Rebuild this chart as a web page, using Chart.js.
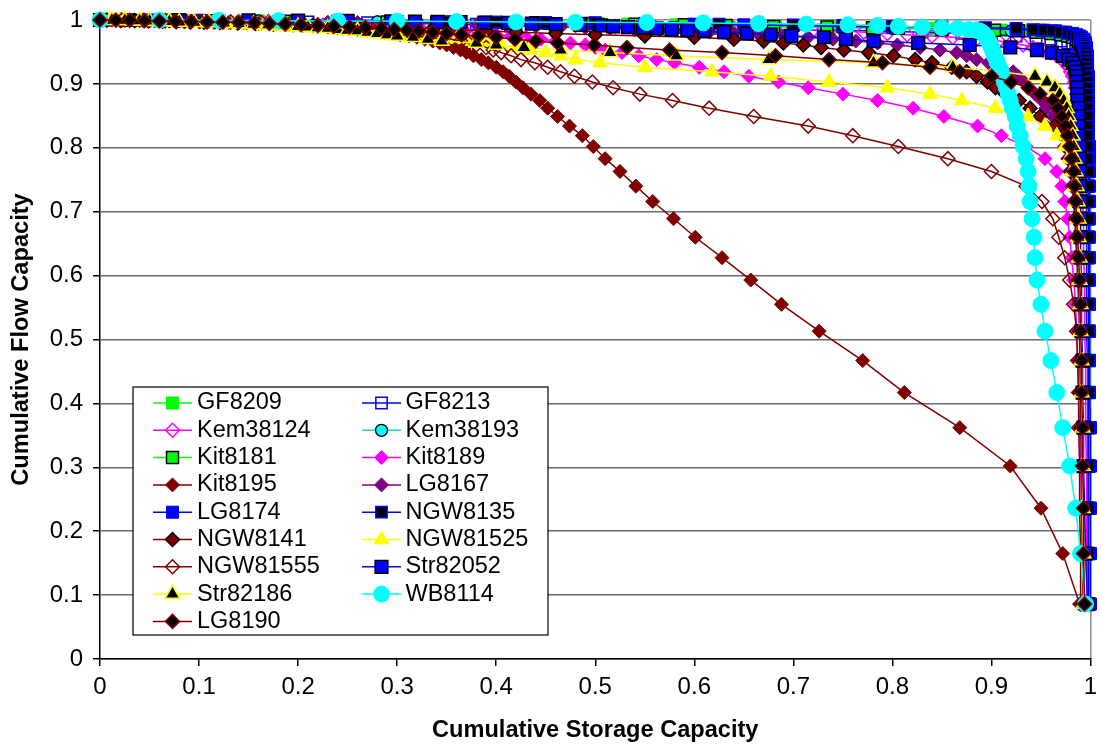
<!DOCTYPE html>
<html>
<head>
<meta charset="utf-8">
<script src="https://cdn.jsdelivr.net/npm/chart.js@4.4.1/dist/chart.umd.min.js"></script>
<style>
html,body{margin:0;padding:0;background:#fff}
#wrap{width:1101px;height:750px;position:relative}
</style>
</head>
<body>
<div id="wrap"><canvas id="c" width="1101" height="750"></canvas></div>
<script>
// Cumulative flow capacity levels shared by every well (top of curve first)
const LEVELS = [1.0, 0.9998, 0.9995, 0.999, 0.9985, 0.998, 0.9975, 0.997, 0.9965, 0.996,
  0.9955, 0.9945, 0.9935, 0.9925, 0.9915, 0.990, 0.989, 0.988, 0.987, 0.985,
  0.984, 0.983, 0.981, 0.979, 0.977, 0.975, 0.973, 0.970, 0.967, 0.964,
  0.961, 0.957, 0.953, 0.949, 0.944, 0.938, 0.933, 0.926, 0.919, 0.912,
  0.903, 0.894, 0.884, 0.874, 0.862, 0.849, 0.834, 0.819, 0.802, 0.783,
  0.763, 0.740, 0.716, 0.689, 0.660, 0.628, 0.593, 0.555, 0.513, 0.467,
  0.417, 0.362, 0.302, 0.236, 0.165, 0.086];

// Cumulative storage capacity of each well at those levels
const GF8209 = [0, 0.04, 0.08, 0.12, 0.16, 0.20, 0.25, 0.30, 0.35, 0.40,
  0.45, 0.503, 0.533, 0.582, 0.633, 0.682, 0.742, 0.79, 0.84, 0.88,
  0.91, 0.935, 0.955, 0.968, 0.977, 0.983, 0.987, 0.99, 0.992, 0.993,
  0.994, 0.994, 0.995, 0.995, 0.995, 0.996, 0.996, 0.996, 0.996, 0.996,
  0.997, 0.997, 0.997, 0.997, 0.997, 0.997, 0.997, 0.998, 0.998, 0.998,
  0.998, 0.998, 0.998, 0.998, 0.998, 0.998, 0.998, 0.998, 0.999, 0.999,
  0.999, 0.999, 0.999, 0.999, 0.999, 0.999];
const GF8213 = [0, 0.03, 0.06, 0.09, 0.12, 0.15, 0.18, 0.21, 0.24, 0.27,
  0.30, 0.34, 0.38, 0.42, 0.46, 0.50, 0.54, 0.58, 0.62, 0.68,
  0.73, 0.78, 0.83, 0.87, 0.90, 0.925, 0.945, 0.96, 0.97, 0.977,
  0.982, 0.985, 0.987, 0.989, 0.99, 0.991, 0.992, 0.992, 0.993, 0.993,
  0.993, 0.994, 0.994, 0.994, 0.994, 0.995, 0.995, 0.995, 0.995, 0.995,
  0.995, 0.996, 0.996, 0.996, 0.996, 0.996, 0.996, 0.996, 0.996, 0.997,
  0.997, 0.997, 0.997, 0.997, 0.997, 0.997];
const Kem38124 = [0, 0.025, 0.05, 0.08, 0.11, 0.14, 0.17, 0.20, 0.24, 0.28,
  0.32, 0.36, 0.40, 0.44, 0.48, 0.52, 0.56, 0.60, 0.64, 0.68,
  0.72, 0.75, 0.771, 0.795, 0.815, 0.84, 0.861, 0.885, 0.907, 0.92,
  0.932, 0.942, 0.952, 0.96, 0.966, 0.971, 0.975, 0.978, 0.98, 0.982,
  0.984, 0.985, 0.986, 0.987, 0.988, 0.989, 0.99, 0.99, 0.991, 0.991,
  0.992, 0.992, 0.992, 0.993, 0.993, 0.993, 0.994, 0.994, 0.994, 0.995,
  0.995, 0.995, 0.996, 0.996, 0.996, 0.997];
const Kem38193 = [0, 0.04, 0.08, 0.12, 0.16, 0.20, 0.24, 0.28, 0.32, 0.36,
  0.40, 0.45, 0.50, 0.55, 0.60, 0.65, 0.70, 0.75, 0.80, 0.85,
  0.89, 0.92, 0.945, 0.962, 0.973, 0.98, 0.985, 0.988, 0.99, 0.991,
  0.992, 0.993, 0.993, 0.994, 0.994, 0.995, 0.995, 0.995, 0.996, 0.996,
  0.996, 0.996, 0.996, 0.997, 0.997, 0.997, 0.997, 0.997, 0.997, 0.997,
  0.997, 0.998, 0.998, 0.998, 0.998, 0.998, 0.998, 0.998, 0.998, 0.998,
  0.998, 0.998, 0.998, 0.998, 0.998, 0.998];
const Kit8181 = [0, 0.03, 0.07, 0.11, 0.15, 0.19, 0.24, 0.29, 0.34, 0.39,
  0.44, 0.49, 0.54, 0.59, 0.632, 0.68, 0.734, 0.78, 0.806, 0.85,
  0.903, 0.927, 0.945, 0.96, 0.97, 0.977, 0.982, 0.986, 0.988, 0.99,
  0.991, 0.992, 0.993, 0.993, 0.994, 0.994, 0.995, 0.995, 0.995, 0.995,
  0.996, 0.996, 0.996, 0.996, 0.996, 0.996, 0.997, 0.997, 0.997, 0.997,
  0.997, 0.997, 0.997, 0.997, 0.997, 0.997, 0.998, 0.998, 0.998, 0.998,
  0.998, 0.998, 0.998, 0.998, 0.998, 0.998];
const Kit8189 = [0, 0.01, 0.02, 0.035, 0.05, 0.065, 0.085, 0.105, 0.125, 0.145,
  0.165, 0.185, 0.205, 0.225, 0.245, 0.265, 0.28, 0.295, 0.31, 0.325,
  0.34, 0.355, 0.37, 0.385, 0.40, 0.415, 0.43, 0.445, 0.46, 0.475,
  0.49, 0.50, 0.51, 0.527, 0.544, 0.562, 0.58, 0.605, 0.63, 0.655,
  0.685, 0.715, 0.75, 0.785, 0.821, 0.852, 0.886, 0.91, 0.935, 0.954,
  0.966, 0.971, 0.974, 0.977, 0.979, 0.981, 0.983, 0.985, 0.986, 0.987,
  0.988, 0.989, 0.99, 0.991, 0.992, 0.993];
const Kit8195 = [0, 0.012, 0.025, 0.04, 0.055, 0.07, 0.085, 0.10, 0.115, 0.13,
  0.145, 0.16, 0.175, 0.19, 0.205, 0.22, 0.23, 0.24, 0.25, 0.26,
  0.27, 0.278, 0.287, 0.295, 0.303, 0.312, 0.32, 0.328, 0.336, 0.343,
  0.35, 0.357, 0.364, 0.37, 0.377, 0.385, 0.392, 0.40, 0.407, 0.413,
  0.42, 0.427, 0.435, 0.444, 0.452, 0.462, 0.474, 0.487, 0.498, 0.51,
  0.525, 0.541, 0.558, 0.579, 0.601, 0.628, 0.657, 0.688, 0.726, 0.770,
  0.812, 0.868, 0.919, 0.950, 0.972, 0.989];
const LG8167 = [0, 0.025, 0.05, 0.08, 0.11, 0.14, 0.17, 0.20, 0.23, 0.26,
  0.29, 0.32, 0.35, 0.38, 0.41, 0.44, 0.465, 0.49, 0.515, 0.54,
  0.565, 0.59, 0.615, 0.64, 0.665, 0.69, 0.715, 0.74, 0.763, 0.785,
  0.805, 0.828, 0.848, 0.865, 0.875, 0.885, 0.897, 0.91, 0.922, 0.927,
  0.933, 0.938, 0.944, 0.951, 0.955, 0.962, 0.967, 0.971, 0.974, 0.977,
  0.979, 0.981, 0.983, 0.984, 0.985, 0.986, 0.987, 0.988, 0.989, 0.989,
  0.99, 0.99, 0.991, 0.991, 0.992, 0.992];
const LG8174 = [0, 0.05, 0.10, 0.15, 0.20, 0.25, 0.30, 0.35, 0.40, 0.45,
  0.50, 0.55, 0.60, 0.65, 0.70, 0.75, 0.80, 0.85, 0.89, 0.925,
  0.95, 0.965, 0.975, 0.982, 0.986, 0.989, 0.991, 0.993, 0.994, 0.995,
  0.995, 0.996, 0.996, 0.996, 0.997, 0.997, 0.997, 0.997, 0.997, 0.998,
  0.998, 0.998, 0.998, 0.998, 0.998, 0.998, 0.998, 0.998, 0.999, 0.999,
  0.999, 0.999, 0.999, 0.999, 0.999, 0.999, 0.999, 0.999, 0.999, 0.999,
  0.999, 1.0, 1.0, 1.0, 1.0, 1.0];
const NGW8135 = [0, 0.05, 0.10, 0.15, 0.20, 0.25, 0.30, 0.35, 0.40, 0.45,
  0.50, 0.55, 0.625, 0.70, 0.75, 0.80, 0.85, 0.894, 0.925, 0.942,
  0.953, 0.962, 0.97, 0.977, 0.982, 0.986, 0.989, 0.991, 0.992, 0.993,
  0.994, 0.994, 0.995, 0.995, 0.995, 0.996, 0.996, 0.996, 0.996, 0.996,
  0.997, 0.997, 0.997, 0.997, 0.997, 0.997, 0.997, 0.997, 0.997, 0.997,
  0.998, 0.998, 0.998, 0.998, 0.998, 0.998, 0.998, 0.998, 0.998, 0.998,
  0.998, 0.998, 0.998, 0.998, 0.998, 0.998];
const NGW8141 = [0, 0.007, 0.021, 0.035, 0.049, 0.063, 0.077, 0.091, 0.105, 0.121,
  0.139, 0.157, 0.175, 0.195, 0.215, 0.24, 0.265, 0.29, 0.31, 0.335,
  0.36, 0.39, 0.42, 0.46, 0.50, 0.55, 0.60, 0.64, 0.67, 0.69,
  0.71, 0.728, 0.751, 0.776, 0.801, 0.823, 0.84, 0.86, 0.875, 0.885,
  0.896, 0.904, 0.914, 0.928, 0.939, 0.949, 0.964, 0.972, 0.976, 0.979,
  0.981, 0.983, 0.984, 0.985, 0.986, 0.987, 0.988, 0.989, 0.989, 0.99,
  0.99, 0.991, 0.991, 0.992, 0.992, 0.993];
const NGW81525 = [0, 0.005, 0.01, 0.02, 0.03, 0.04, 0.05, 0.06, 0.075, 0.09,
  0.105, 0.12, 0.135, 0.15, 0.165, 0.18, 0.195, 0.21, 0.225, 0.24,
  0.255, 0.27, 0.285, 0.30, 0.315, 0.33, 0.345, 0.36, 0.375, 0.39,
  0.405, 0.42, 0.435, 0.45, 0.465, 0.48, 0.505, 0.55, 0.618, 0.677,
  0.736, 0.795, 0.838, 0.87, 0.904, 0.937, 0.954, 0.966, 0.974, 0.978,
  0.981, 0.983, 0.985, 0.986, 0.987, 0.988, 0.989, 0.99, 0.99, 0.991,
  0.991, 0.992, 0.992, 0.993, 0.993, 0.994];
const NGW81555 = [0, 0.022, 0.044, 0.066, 0.086, 0.101, 0.116, 0.132, 0.148, 0.163,
  0.178, 0.192, 0.206, 0.22, 0.234, 0.248, 0.258, 0.268, 0.278, 0.287,
  0.295, 0.304, 0.313, 0.322, 0.33, 0.338, 0.346, 0.355, 0.364, 0.372,
  0.38, 0.39, 0.397, 0.405, 0.415, 0.425, 0.439, 0.452, 0.465, 0.479,
  0.497, 0.518, 0.545, 0.578, 0.615, 0.66, 0.715, 0.76, 0.806, 0.856,
  0.90, 0.935, 0.951, 0.962, 0.968, 0.974, 0.979, 0.983, 0.986, 0.987,
  0.988, 0.988, 0.989, 0.989, 0.99, 0.99];
const Str82052 = [0, 0.08, 0.15, 0.20, 0.25, 0.294, 0.318, 0.341, 0.364, 0.388,
  0.412, 0.436, 0.46, 0.485, 0.506, 0.518, 0.533, 0.548, 0.562, 0.577,
  0.593, 0.61, 0.63, 0.653, 0.677, 0.698, 0.731, 0.753, 0.781, 0.826,
  0.878, 0.919, 0.946, 0.961, 0.972, 0.978, 0.982, 0.984, 0.985, 0.986,
  0.986, 0.987, 0.987, 0.987, 0.988, 0.988, 0.988, 0.988, 0.989, 0.989,
  0.989, 0.989, 0.99, 0.99, 0.99, 0.99, 0.991, 0.991, 0.991, 0.992,
  0.992, 0.993, 0.993, 0.994, 0.995, 0.997];
const Str82186 = [0, 0.012, 0.025, 0.04, 0.05, 0.06, 0.07, 0.08, 0.095, 0.11,
  0.125, 0.14, 0.155, 0.17, 0.185, 0.20, 0.21, 0.22, 0.23, 0.24,
  0.25, 0.26, 0.27, 0.28, 0.29, 0.30, 0.316, 0.331, 0.345, 0.38,
  0.40, 0.428, 0.465, 0.515, 0.582, 0.675, 0.781, 0.861, 0.91, 0.944,
  0.956, 0.964, 0.969, 0.973, 0.976, 0.978, 0.98, 0.982, 0.983, 0.984,
  0.985, 0.986, 0.987, 0.988, 0.988, 0.989, 0.989, 0.99, 0.99, 0.991,
  0.991, 0.992, 0.992, 0.992, 0.993, 0.993];
const WB8114 = [0, 0.06, 0.12, 0.18, 0.24, 0.30, 0.36, 0.42, 0.48, 0.552,
  0.609, 0.665, 0.713, 0.755, 0.785, 0.806, 0.83, 0.85, 0.866, 0.877,
  0.884, 0.888, 0.890, 0.892, 0.893, 0.894, 0.895, 0.896, 0.897, 0.898,
  0.899, 0.90, 0.901, 0.902, 0.903, 0.905, 0.906, 0.908, 0.910, 0.911,
  0.913, 0.915, 0.917, 0.919, 0.921, 0.924, 0.926, 0.929, 0.932, 0.935,
  0.937, 0.938, 0.939, 0.941, 0.943, 0.944, 0.946, 0.950, 0.954, 0.960,
  0.966, 0.972, 0.979, 0.985, 0.990, 0.995];
const LG8190 = [0, 0.016, 0.03, 0.045, 0.06, 0.076, 0.092, 0.108, 0.124, 0.14,
  0.156, 0.171, 0.187, 0.203, 0.22, 0.236, 0.252, 0.268, 0.284, 0.297,
  0.31, 0.322, 0.336, 0.35, 0.365, 0.382, 0.40, 0.419, 0.44, 0.462,
  0.499, 0.532, 0.575, 0.628, 0.682, 0.736, 0.79, 0.838, 0.868, 0.90,
  0.92, 0.937, 0.949, 0.962, 0.967, 0.971, 0.975, 0.977, 0.979, 0.981,
  0.983, 0.984, 0.985, 0.986, 0.987, 0.988, 0.989, 0.99, 0.99, 0.991,
  0.991, 0.992, 0.992, 0.993, 0.993, 0.994];

const Y_TICKS = [0, 0.1, 0.2, 0.3, 0.4, 0.5, 0.6, 0.7, 0.8, 0.9, 1];
const X_TICKS = [0, 0.1, 0.2, 0.3, 0.4, 0.5, 0.6, 0.7, 0.8, 0.9, 1];

const FONT = "'Liberation Sans', Arial, Helvetica, sans-serif";
const NONE = 'rgba(0,0,0,0)';

// Series in legend order; later series are painted over earlier ones
const SERIES = [
  {name: 'GF8209',   x: GF8209,   line: '#00FF00', shape: 'rect',     fill: '#00FF00', edge: '#00FF00', bw: 1,   r: 8.5},
  {name: 'GF8213',   x: GF8213,   line: '#0000FF', shape: 'rect',     fill: NONE,      edge: '#0000FF', bw: 1.5, r: 8},
  {name: 'Kem38124', x: Kem38124, line: '#FF00FF', shape: 'rectRot',  fill: NONE,      edge: '#FF00FF', bw: 1.5, r: 7},
  {name: 'Kem38193', x: Kem38193, line: '#33CCCC', shape: 'circle',   fill: '#00FFFF', edge: '#000000', bw: 1.3, r: 6},
  {name: 'Kit8181',  x: Kit8181,  line: '#00FF00', shape: 'rect',     fill: '#00FF00', edge: '#000000', bw: 1.5, r: 8.5},
  {name: 'Kit8189',  x: Kit8189,  line: '#FF00FF', shape: 'rectRot',  fill: '#FF00FF', edge: '#FF00FF', bw: 1,   r: 7},
  {name: 'Kit8195',  x: Kit8195,  line: '#800000', shape: 'rectRot',  fill: '#800000', edge: '#800000', bw: 1,   r: 7},
  {name: 'LG8167',   x: LG8167,   line: '#800080', shape: 'rectRot',  fill: '#800080', edge: '#800080', bw: 1,   r: 7},
  {name: 'LG8174',   x: LG8174,   line: '#0000FF', shape: 'rect',     fill: '#0000FF', edge: '#0000FF', bw: 1,   r: 8.5},
  {name: 'NGW8135',  x: NGW8135,  line: '#0000FF', shape: 'rect',     fill: '#000000', edge: '#0000FF', bw: 1.5, r: 8},
  {name: 'NGW8141',  x: NGW8141,  line: '#800000', shape: 'rectRot',  fill: '#800000', edge: '#000000', bw: 1.5, r: 7},
  {name: 'NGW81525', x: NGW81525, line: '#FFFF00', shape: 'triangle', fill: '#FFFF00', edge: '#FFFF00', bw: 1,   r: 8.5},
  {name: 'NGW81555', x: NGW81555, line: '#800000', shape: 'rectRot',  fill: NONE,      edge: '#800000', bw: 1.5, r: 7},
  {name: 'Str82052', x: Str82052, line: '#0000FF', shape: 'rect',     fill: '#0000FF', edge: '#000000', bw: 1.5, r: 9},
  {name: 'Str82186', x: Str82186, line: '#FFFF00', shape: 'triangle', fill: '#000000', edge: '#FFFF00', bw: 1.5, r: 8.5},
  {name: 'WB8114',   x: WB8114,   line: '#00FFFF', shape: 'circle',   fill: '#00FFFF', edge: '#00FFFF', bw: 1,   r: 8},
  {name: 'LG8190',   x: LG8190,   line: '#800000', shape: 'rectRot',  fill: '#000000', edge: '#800000', bw: 1.5, r: 7}
];

function pointsOf(xs) {
  const pts = [];
  for (let i = 0; i < xs.length && i < LEVELS.length; i++) pts.push({x: xs[i], y: LEVELS[i]});
  return pts;
}

const datasets = SERIES.map((s, i) => ({
  label: s.name,
  data: pointsOf(s.x),
  showLine: true,
  tension: 0,
  borderColor: s.line,
  borderWidth: 1.5,
  backgroundColor: s.fill,
  pointStyle: s.shape,
  pointRadius: s.r,
  pointBackgroundColor: s.fill,
  pointBorderColor: s.edge,
  pointBorderWidth: s.bw,
  pointHoverRadius: s.r,
  clip: false,
  order: SERIES.length - i
}));

function marker(ctx, s, x, y) {
  ctx.save();
  ctx.fillStyle = s.fill;
  ctx.strokeStyle = s.edge;
  ctx.lineWidth = s.bw;
  ctx.beginPath();
  const r = s.r;
  if (s.shape === 'rect') {
    const h = r * Math.SQRT1_2;
    ctx.rect(x - h, y - h, 2 * h, 2 * h);
  } else if (s.shape === 'rectRot') {
    ctx.moveTo(x - r, y); ctx.lineTo(x, y - r); ctx.lineTo(x + r, y); ctx.lineTo(x, y + r); ctx.closePath();
  } else if (s.shape === 'triangle') {
    for (let k = 0; k < 3; k++) {
      const a = k * 2 * Math.PI / 3;
      const px = x + Math.sin(a) * r, py = y - Math.cos(a) * r;
      if (k === 0) ctx.moveTo(px, py); else ctx.lineTo(px, py);
    }
    ctx.closePath();
  } else {
    ctx.arc(x, y, r, 0, Math.PI * 2);
  }
  ctx.fill();
  if (s.bw > 0) ctx.stroke();
  ctx.restore();
}

// Two-column key boxed inside the lower left of the plot
const keyBox = {
  id: 'keyBox',
  afterDraw(chart) {
    const ctx = chart.ctx;
    const left = 133, top = 387, right = 548, bottom = 635;
    const rowTop = 403, rowStep = 27.3;
    const cols = [{lineA: 153, lineB: 192, text: 197}, {lineA: 362, lineB: 401, text: 405.5}];
    ctx.save();
    ctx.fillStyle = '#ffffff';
    ctx.fillRect(left, top, right - left, bottom - top);
    ctx.strokeStyle = '#000000';
    ctx.lineWidth = 1.2;
    ctx.strokeRect(left, top, right - left, bottom - top);
    ctx.font = '23.5px ' + FONT;
    ctx.textBaseline = 'middle';
    ctx.textAlign = 'left';
    SERIES.forEach((s, i) => {
      const c = cols[i % 2];
      const y = rowTop + Math.floor(i / 2) * rowStep;
      ctx.strokeStyle = s.line;
      ctx.lineWidth = 1.5;
      ctx.beginPath(); ctx.moveTo(c.lineA, y); ctx.lineTo(c.lineB, y); ctx.stroke();
      marker(ctx, s, (c.lineA + c.lineB) / 2, y);
      ctx.fillStyle = '#000000';
      ctx.fillText(s.name, c.text, y);
    });
    ctx.restore();
  }
};

const fmt = v => String(Math.round(v * 10) / 10);

new Chart(document.getElementById('c'), {
  type: 'scatter',
  data: {datasets},
  plugins: [keyBox],
  options: {
    responsive: false,
    animation: false,
    events: [],
    layout: {padding: {left: 0, right: 7, top: 20, bottom: 0}},
    plugins: {legend: {display: false}, tooltip: {enabled: false}},
    scales: {
      x: {
        type: 'linear', min: 0, max: 1,
        afterBuildTicks: s => { s.ticks = X_TICKS.map(v => ({value: v})); },
        ticks: {color: '#000', font: {family: FONT, size: 24}, padding: 7, maxRotation: 0, callback: fmt},
        grid: {
          color: c => (c.tick && c.tick.value === 1) ? '#8c8c8c' : NONE,
          lineWidth: 1.5, tickColor: '#000', tickLength: 7
        },
        border: {color: '#000', width: 1.5},
        title: {display: true, text: 'Cumulative Storage Capacity', color: '#000',
          font: {family: FONT, size: 23.6, weight: 'bold'}, padding: {top: 0, bottom: 5}},
        afterFit: s => { s.height = 91; s.paddingLeft = 0; s.paddingRight = 0; }
      },
      y: {
        type: 'linear', min: 0, max: 1,
        afterBuildTicks: s => { s.ticks = Y_TICKS.map(v => ({value: v})); },
        ticks: {color: '#000', font: {family: FONT, size: 24}, padding: 10, callback: fmt},
        grid: {
          color: c => (c.tick && c.tick.value === 1) ? '#8c8c8c' : '#6a6a6a',
          lineWidth: 1.5, tickColor: '#000', tickLength: 7
        },
        border: {color: '#000', width: 1.5},
        title: {display: true, text: 'Cumulative Flow Capacity', color: '#000',
          font: {family: FONT, size: 23.6, weight: 'bold'}, padding: {top: 7, bottom: 0}},
        afterFit: s => { s.width = 100; s.paddingTop = 0; s.paddingBottom = 0; }
      }
    }
  }
});
</script>
</body>
</html>
